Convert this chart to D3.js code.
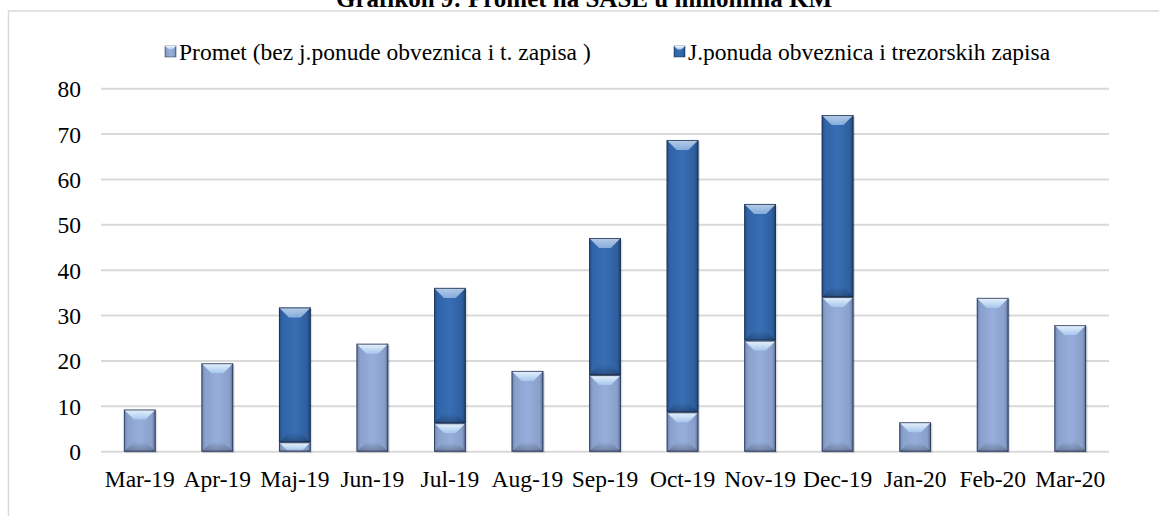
<!DOCTYPE html>
<html lang="hr">
<head>
<meta charset="UTF-8">
<script src="https://cdnjs.cloudflare.com/ajax/libs/d3/7.8.5/d3.min.js"></script>
<style>
  html, body { margin: 0; padding: 0; background: #fff; }
  svg { display: block; }
  text { font-family: "Liberation Serif", "Times New Roman", serif; fill: #000; }
</style>
</head>
<body>
<div id="chart"></div>
<script>
// values (milioni KM)
var categories = ["Mar-19", "Apr-19", "Maj-19", "Jun-19", "Jul-19", "Aug-19", "Sep-19",
                  "Oct-19", "Nov-19", "Dec-19", "Jan-20", "Feb-20", "Mar-20"];
var promet = [9.3, 19.5, 2.1, 23.8, 6.3, 17.8, 16.9, 8.7, 24.5, 34.1, 6.5, 33.9, 27.9];
var ponuda = [0, 0, 29.7, 0, 29.8, 0, 30.2, 60.0, 30.1, 40.1, 0, 0, 0];
var seriesNames = ["Promet (bez j.ponude obveznica i t. zapisa )", "J.ponuda obveznica i trezorskih zapisa"];
var yTicks = [0, 10, 20, 30, 40, 50, 60, 70, 80];

var W = 1159, H = 516;
var plot = {left: 101, right: 1109, top: 88.7, bottom: 451.7};

var svg = d3.select("#chart").append("svg")
    .attr("width", W)
    .attr("height", H);

var defs = svg.append("defs");

function hGrad(id, stops) {
    var g = defs.append("linearGradient").attr("id", id)
        .attr("x1", "0").attr("x2", "1").attr("y1", "0").attr("y2", "0");
    stops.forEach(function (s) {
        g.append("stop").attr("offset", s[0]).attr("stop-color", s[1]);
    });
}
hGrad("gLight", [[0, "#6c83b0"], [0.12, "#8aa1cc"], [0.5, "#97addb"], [0.88, "#8aa0ca"], [1, "#586d96"]]);
hGrad("gDark", [[0, "#244f8a"], [0.12, "#3164a8"], [0.5, "#386eb4"], [0.88, "#2f5f9f"], [1, "#1d4272"]]);

var cap = defs.append("linearGradient").attr("id", "gCap")
    .attr("x1", "0").attr("x2", "0").attr("y1", "0").attr("y2", "1");
cap.append("stop").attr("offset", 0).attr("stop-color", "#eef8ff");
cap.append("stop").attr("offset", 1).attr("stop-color", "#a7c8ee");

var foot = defs.append("linearGradient").attr("id", "gFoot")
    .attr("x1", "0").attr("x2", "0").attr("y1", "0").attr("y2", "1");
foot.append("stop").attr("offset", 0).attr("stop-color", "#000").attr("stop-opacity", 0);
foot.append("stop").attr("offset", 1).attr("stop-color", "#000").attr("stop-opacity", 0.25);

// outer frame
svg.append("rect")
    .attr("x", 8.5).attr("y", 11)
    .attr("width", W).attr("height", H)
    .attr("fill", "none")
    .attr("stroke", "#d9d9d9")
    .attr("stroke-width", 1.5);

// title (partly cut by the top edge in the original)
svg.append("text")
    .attr("x", 584).attr("y", 7)
    .attr("text-anchor", "middle")
    .style("font-size", "25px")
    .style("font-weight", "bold")
    .text("Grafikon 9: Promet na SASE u milionima KM");

var x = d3.scaleBand()
    .domain(categories)
    .range([plot.left, plot.right])
    .paddingInner(0.59)
    .paddingOuter(0.295);

var y = d3.scaleLinear()
    .domain([0, 80])
    .range([plot.bottom, plot.top]);

// gridlines
svg.append("g")
    .selectAll("line")
    .data(yTicks)
    .enter().append("line")
    .attr("x1", plot.left).attr("x2", plot.right)
    .attr("y1", function (d) { return y(d); })
    .attr("y2", function (d) { return y(d); })
    .attr("stroke", "#d9d9d9")
    .attr("stroke-width", 2);

// y axis
var yAxis = svg.append("g")
    .attr("transform", "translate(" + (plot.left - 20) + ",0)")
    .call(d3.axisLeft(y).tickValues(yTicks).tickSize(0).tickPadding(0));
yAxis.select(".domain").remove();
yAxis.attr("font-family", null);
yAxis.selectAll("text")
    .style("font-size", "23.5px")
    .attr("dy", "0.34em");

// x axis
var xAxis = svg.append("g")
    .attr("transform", "translate(0," + plot.bottom + ")")
    .call(d3.axisBottom(x).tickSize(0).tickPadding(0));
xAxis.select(".domain").remove();
xAxis.attr("font-family", null);
xAxis.selectAll("text")
    .style("font-size", "23.5px")
    .attr("dy", null)
    .attr("y", 35);

// stacked bars
var rows = categories.map(function (c, i) {
    return {cat: c, promet: promet[i], ponuda: ponuda[i]};
});
var stack = d3.stack().keys(["promet", "ponuda"]);
var layers = stack(rows);
var fills = ["url(#gLight)", "url(#gDark)"];

var bw = x.bandwidth();
var bev = 10;

layers.forEach(function (layer, li) {
    var g = svg.append("g").attr("class", "series-" + li);
    var segs = g.selectAll("g")
        .data(layer.filter(function (d) { return d[1] - d[0] > 0; }))
        .enter().append("g");

    segs.append("rect")
        .attr("x", function (d) { return x(d.data.cat) + 1.5; })
        .attr("y", function (d) { return y(d[1]) + 1.5; })
        .attr("width", bw)
        .attr("height", function (d) { return y(d[0]) - y(d[1]); })
        .attr("fill", "#000")
        .attr("opacity", 0.12);

    segs.append("rect")
        .attr("x", function (d) { return x(d.data.cat); })
        .attr("y", function (d) { return y(d[1]); })
        .attr("width", bw)
        .attr("height", function (d) { return y(d[0]) - y(d[1]); })
        .attr("fill", fills[li]);

    // top bevel
    segs.append("path")
        .attr("d", function (d) {
            var x0 = x(d.data.cat), x1 = x0 + bw, t = y(d[1]);
            var b = Math.min(bev, (y(d[0]) - y(d[1])) * 0.9);
            return "M" + x0 + "," + t + "L" + x1 + "," + t +
                "L" + (x1 - b) + "," + (t + b) + "L" + (x0 + b) + "," + (t + b) + "Z";
        })
        .attr("fill", "url(#gCap)")
        .attr("opacity", li === 0 ? 0.95 : 0.7);

    // bottom shade
    segs.append("path")
        .attr("d", function (d) {
            var x0 = x(d.data.cat), x1 = x0 + bw, bt = y(d[0]);
            var b = Math.min(bev, (y(d[0]) - y(d[1])) * 0.3);
            return "M" + x0 + "," + bt + "L" + x1 + "," + bt +
                "L" + (x1 - b) + "," + (bt - b) + "L" + (x0 + b) + "," + (bt - b) + "Z";
        })
        .attr("fill", "url(#gFoot)");

    segs.append("rect")
        .attr("x", function (d) { return x(d.data.cat) + 0.5; })
        .attr("y", function (d) { return y(d[1]) + 0.5; })
        .attr("width", bw - 1)
        .attr("height", function (d) { return Math.max(0, y(d[0]) - y(d[1]) - 1); })
        .attr("fill", "none")
        .attr("stroke", "#1c2b4a")
        .attr("stroke-opacity", 0.75)
        .attr("stroke-width", 1);
});

// legend
var legendItems = [
    {name: seriesNames[0], fill: "url(#gLight)", x: 165},
    {name: seriesNames[1], fill: "url(#gDark)", x: 674}
];
var lg = svg.append("g").selectAll("g")
    .data(legendItems)
    .enter().append("g")
    .attr("transform", function (d) { return "translate(" + d.x + ",46)"; });
lg.append("rect")
    .attr("width", 11).attr("height", 11)
    .attr("fill", function (d) { return d.fill; })
    .attr("stroke", "#1c2b4a").attr("stroke-opacity", 0.6).attr("stroke-width", 0.8);
lg.append("path")
    .attr("d", "M0,0L11,0L7.5,3.5L3.5,3.5Z")
    .attr("fill", "url(#gCap)");
lg.append("text")
    .attr("x", 14).attr("y", 5.5)
    .attr("dy", "0.34em")
    .style("font-size", "23.5px")
    .text(function (d) { return d.name; });
</script>
</body>
</html>
